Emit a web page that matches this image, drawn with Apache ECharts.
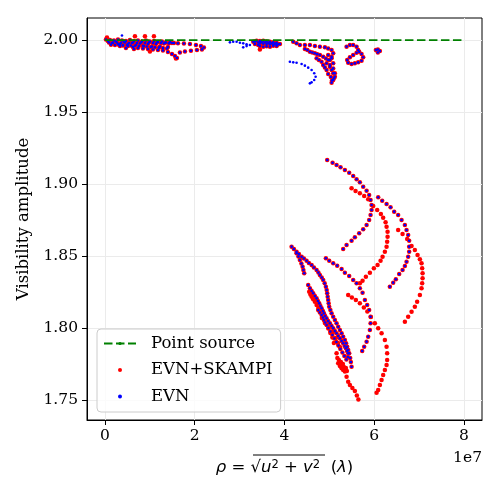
<!DOCTYPE html>
<html><head><meta charset="utf-8">
<script src="https://cdn.jsdelivr.net/npm/echarts@6/dist/echarts.min.js"></script>
<style>html,body{margin:0;padding:0;background:#fff}#c{width:500px;height:500px}</style>
</head><body><div id="c"></div>
<script>
// x values are rho in units of 1e7 lambda (axis offset label "1e7")
const xTicks = [0, 2, 4, 6, 8];
const yTicks = [1.75, 1.80, 1.85, 1.90, 1.95, 2.00];
const pointSourceRho = [0, 8];
const pointSourceAmp = [2.0, 2.0];

// ---- tracks present in both EVN+SKAMPI and EVN ----
const topA = [[0.022,2.0003],[0.111,2.0000],[0.200,1.9997],[0.290,2.0003],[0.379,1.9997],[0.468,1.9993],[0.557,2.0000],[0.646,1.9993],[0.735,1.9997],[0.824,1.9990],[0.913,1.9997],[1.002,1.9990],[1.091,1.9993],[1.180,1.9986],[1.269,1.9990],[1.359,1.9983],[1.448,1.9986],[1.537,1.9979]];
const topB = [[0.067,1.9993],[0.178,1.9983],[0.290,1.9972],[0.401,1.9965],[0.512,1.9958],[0.624,1.9951],[0.735,1.9944],[0.846,1.9941],[0.958,1.9938],[1.069,1.9934],[1.180,1.9931],[1.292,1.9927],[1.403,1.9917],[1.492,1.9903],[1.559,1.9889],[1.604,1.9875]];
const topC = [[0.245,1.9990],[0.423,1.9986],[0.601,1.9979],[0.780,1.9976],[0.958,1.9972],[1.136,1.9972],[1.314,1.9976],[1.492,1.9979],[1.626,1.9977],[1.759,1.9976],[1.893,1.9972],[2.027,1.9965],[2.138,1.9958],[2.205,1.9948],[2.160,1.9935],[2.049,1.9931],[1.915,1.9926],[1.782,1.9920],[1.670,1.9913]];
const topD = [[0.156,1.9979],[0.334,1.9972],[0.512,1.9972],[0.690,1.9965],[0.869,1.9958],[1.047,1.9955],[1.225,1.9955],[1.403,1.9951],[0.468,1.9944],[0.646,1.9938],[0.334,1.9958]];
const topE = [[0.089,1.9983],[0.178,1.9979],[0.267,1.9983],[0.356,1.9979],[0.445,1.9983],[0.535,1.9979],[0.624,1.9983],[0.713,1.9979],[0.802,1.9983],[0.891,1.9979],[0.980,1.9983],[1.069,1.9979],[1.158,1.9983],[1.247,1.9979],[1.336,1.9981],[1.425,1.9977]];
const topF = [[0.134,1.9968],[0.223,1.9965],[0.312,1.9968],[0.401,1.9962],[0.490,1.9965],[0.579,1.9962],[0.668,1.9960],[0.757,1.9958],[0.846,1.9960],[0.935,1.9955],[1.024,1.9951],[1.114,1.9949],[1.203,1.9947],[1.292,1.9944],[1.381,1.9941]];
const midTop = [[3.303,1.9988],[3.379,1.9995],[3.452,1.9993],[3.526,1.9995],[3.601,1.9990],[3.675,1.9988],[3.748,1.9985],[3.824,1.9981],[3.898,1.9972],[3.824,1.9958],[3.748,1.9960],[3.675,1.9953],[3.601,1.9956],[3.526,1.9953],[3.452,1.9958],[3.414,1.9965],[3.341,1.9972],[3.452,1.9977],[3.526,1.9975],[3.601,1.9972],[3.675,1.9970],[3.748,1.9967],[3.824,1.9965],[3.341,1.9990],[3.414,1.9983],[3.490,1.9985],[3.564,1.9983],[3.640,1.9980],[3.712,1.9978],[3.786,1.9975],[3.860,1.9970]];
const hookA = [[4.194,1.9988],[4.269,1.9977],[4.343,1.9965],[4.454,1.9965],[4.566,1.9965],[4.677,1.9958],[4.788,1.9954],[4.900,1.9949],[4.973,1.9941],[5.049,1.9931],[5.085,1.9908],[5.049,1.9884],[4.973,1.9861],[4.938,1.9838],[5.011,1.9826],[5.085,1.9803],[5.122,1.9769],[5.100,1.9734],[5.049,1.9704]];
const hookB = [[4.454,1.9938],[4.566,1.9919],[4.677,1.9908],[4.788,1.9896],[4.862,1.9884],[4.922,1.9872],[4.973,1.9896],[4.510,1.9930],[4.620,1.9913],[4.730,1.9902]];
const hookC = [[4.715,1.9873],[4.766,1.9861],[4.826,1.9849],[4.862,1.9826],[4.938,1.9792],[5.011,1.9815],[5.049,1.9792],[5.085,1.9769],[5.122,1.9745],[5.085,1.9722],[5.011,1.9861],[5.049,1.9873],[5.085,1.9838],[4.973,1.9764],[5.033,1.9743],[4.900,1.9810],[5.060,1.9720]];
const loopTop = [[5.383,1.9954],[5.457,1.9965],[5.530,1.9965],[5.606,1.9954],[5.641,1.9931],[5.606,1.9912],[5.530,1.9896],[5.457,1.9880],[5.396,1.9861],[5.419,1.9842],[5.494,1.9833],[5.568,1.9838],[5.641,1.9845],[5.717,1.9856],[5.753,1.9880],[5.717,1.9903],[5.664,1.9919]];
const dotTop = [[6.080,1.9934],[6.125,1.9924],[6.080,1.9913],[6.036,1.9931]];
const arcA = [[4.951,1.9167],[5.071,1.9148],[5.160,1.9132],[5.249,1.9116],[5.345,1.9097],[5.441,1.9078],[5.530,1.9056],[5.606,1.9033],[5.679,1.9012],[5.753,1.8981],[5.829,1.8953],[5.886,1.8924],[5.918,1.8889],[5.940,1.8854],[5.940,1.8819],[5.918,1.8785],[5.886,1.8750],[5.829,1.8715],[5.753,1.8685],[5.664,1.8658],[5.568,1.8630],[5.494,1.8606],[5.383,1.8576],[5.307,1.8549]];
const arcC = [[6.087,1.8908],[6.176,1.8884],[6.274,1.8861],[6.363,1.8838],[6.443,1.8808],[6.532,1.8785],[6.608,1.8750],[6.682,1.8715],[6.719,1.8681],[6.755,1.8646],[6.777,1.8606],[6.777,1.8565],[6.777,1.8530],[6.755,1.8495],[6.719,1.8460],[6.682,1.8431],[6.630,1.8403],[6.555,1.8375],[6.481,1.8338],[6.421,1.8315],[6.347,1.8287]];
const arcE = [[4.922,1.8484],[4.996,1.8467],[5.085,1.8449],[5.174,1.8433],[5.272,1.8410],[5.345,1.8384],[5.441,1.8361],[5.530,1.8333],[5.606,1.8310],[5.679,1.8276],[5.739,1.8245],[5.791,1.8194],[5.842,1.8160],[5.886,1.8125],[5.918,1.8078],[5.918,1.8033],[5.902,1.7986],[5.864,1.7940],[5.829,1.7905],[5.775,1.7870],[5.731,1.7840]];
const fanOuter = [[4.158,1.8565],[4.209,1.8549],[4.269,1.8530],[4.321,1.8514],[4.381,1.8495],[4.432,1.8483],[4.492,1.8467],[4.543,1.8451],[4.604,1.8438],[4.655,1.8420],[4.715,1.8403],[4.755,1.8385],[4.788,1.8368],[4.829,1.8351],[4.862,1.8333],[4.895,1.8310],[4.922,1.8287],[4.940,1.8264],[4.951,1.8241],[4.962,1.8217],[4.973,1.8194],[4.984,1.8171],[4.996,1.8148],[5.022,1.8125],[5.049,1.8102],[5.085,1.8078],[5.122,1.8056],[5.160,1.8033],[5.196,1.8009],[5.234,1.7986],[5.272,1.7963],[5.307,1.7940],[5.345,1.7917],[5.372,1.7894],[5.396,1.7870],[5.419,1.7847],[5.441,1.7824],[5.463,1.7792],[5.479,1.7764],[5.494,1.7731]];
const fanInner = [[4.269,1.8519],[4.310,1.8497],[4.343,1.8472],[4.376,1.8448],[4.403,1.8426],[4.421,1.8403],[4.439,1.8380]];
const fanMid = [[4.528,1.8299],[4.566,1.8276],[4.604,1.8257],[4.639,1.8241],[4.677,1.8222],[4.715,1.8206],[4.744,1.8188],[4.773,1.8171],[4.800,1.8153],[4.826,1.8137],[4.855,1.8118],[4.878,1.8102],[4.906,1.8083],[4.938,1.8067],[4.973,1.8049],[5.011,1.8033],[5.049,1.8014],[5.085,1.7998],[5.122,1.7979],[5.160,1.7963],[5.196,1.7944],[5.234,1.7928],[5.272,1.7910],[5.307,1.7894],[5.338,1.7875],[5.367,1.7859],[5.394,1.7840],[5.419,1.7824],[5.412,1.7799]];
const fanLow = [[4.751,1.8125],[4.788,1.8108],[4.826,1.8090],[4.855,1.8073],[4.878,1.8056],[4.906,1.8038],[4.938,1.8021],[4.978,1.8000],[5.022,1.7976],[5.067,1.7951],[5.111,1.7927],[5.156,1.7903],[5.200,1.7878],[5.245,1.7854],[5.290,1.7830],[5.334,1.7806],[5.379,1.7781]];

// ---- EVN+SKAMPI only ----
const redTopDots = [[0.045,2.0017],[0.668,2.0026],[0.891,2.0026],[1.091,2.0026],[1.581,1.9872],[1.002,1.9920],[3.452,1.9935]];
const arcB = [[5.494,1.8970],[5.583,1.8951],[5.679,1.8935],[5.775,1.8917],[5.864,1.8894],[5.976,1.8847],[6.065,1.8819],[6.147,1.8792],[6.198,1.8766],[6.252,1.8734],[6.274,1.8703],[6.296,1.8669],[6.296,1.8634],[6.287,1.8599],[6.274,1.8565],[6.236,1.8530],[6.185,1.8495],[6.140,1.8467],[6.073,1.8438],[5.991,1.8415],[5.902,1.8384],[5.813,1.8356],[5.739,1.8328],[5.679,1.8310]];
const arcD = [[6.532,1.8681],[6.630,1.8653],[6.733,1.8618],[6.831,1.8569],[6.904,1.8542],[6.964,1.8507],[7.016,1.8477],[7.053,1.8449],[7.067,1.8415],[7.076,1.8380],[7.076,1.8345],[7.067,1.8310],[7.053,1.8276],[7.016,1.8229],[6.955,1.8183],[6.904,1.8148],[6.831,1.8113],[6.755,1.8078],[6.682,1.8044]];
const arcF = [[5.419,1.8229],[5.501,1.8212],[5.590,1.8194],[5.679,1.8171],[5.768,1.8142],[5.846,1.8115],[5.924,1.8076],[6.013,1.8033],[6.087,1.7998],[6.163,1.7963],[6.236,1.7917],[6.274,1.7870],[6.287,1.7824],[6.287,1.7778],[6.274,1.7743],[6.236,1.7708],[6.198,1.7674],[6.163,1.7639],[6.125,1.7604],[6.087,1.7569],[6.051,1.7551]];
const redUnder = [[4.550,1.8252],[4.577,1.8233],[4.604,1.8217],[4.639,1.8200],[4.677,1.8183],[4.715,1.8160],[4.755,1.8139],[4.800,1.8111],[4.844,1.8083],[4.889,1.8056],[4.933,1.8028],[4.978,1.7997],[5.022,1.7965],[5.067,1.7934],[4.833,1.8069],[4.900,1.8035],[4.989,1.8007],[5.078,1.7972],[5.145,1.7931],[5.189,1.7896],[5.234,1.7868],[5.100,1.7896]];
const redTail = [[5.160,1.7824],[5.178,1.7792],[5.196,1.7755],[5.234,1.7736],[5.272,1.7720],[5.307,1.7708],[5.345,1.7697],[5.383,1.7662],[5.419,1.7627],[5.457,1.7604],[5.512,1.7583],[5.568,1.7563],[5.612,1.7531],[5.646,1.7503],[5.256,1.7764],[5.301,1.7750],[5.323,1.7729],[5.367,1.7722],[5.390,1.7701],[5.278,1.7736],[5.212,1.7778]];

// ---- EVN only ----
const blueTopDots = [[0.379,2.0031]];
const blueMidTrack = [[2.784,1.9984],[2.857,1.9988],[2.933,1.9988],[3.007,1.9981],[3.080,1.9977],[3.156,1.9970],[3.229,1.9965],[3.156,1.9958],[3.080,1.9949]];
const blueHook = [[4.120,1.9849],[4.194,1.9845],[4.269,1.9842],[4.381,1.9833],[4.454,1.9822],[4.528,1.9808],[4.604,1.9792],[4.662,1.9769],[4.693,1.9745],[4.662,1.9722],[4.604,1.9706],[4.566,1.9699]];

const sharedTracks = [topA, topB, topC, topD, topE, topF, midTop, hookA, hookB, hookC, loopTop, dotTop, arcA, arcC, arcE, fanOuter, fanInner, fanMid, fanLow];
const skampiOnly = [redTopDots, arcB, arcD, arcF, redUnder, redTail];
const evnOnly = [blueTopDots, blueMidTrack, blueHook];

const skampiData = [].concat(...sharedTracks, ...skampiOnly);
const evnData = [].concat(...sharedTracks, ...evnOnly);
const pointSourceData = pointSourceRho.map((x, i) => [x, pointSourceAmp[i]]);

const chart = echarts.init(document.getElementById('c'), null, {renderer: 'canvas'});
const serif = 'DejaVu Serif';
chart.setOption({
  animation: false,
  backgroundColor: '#fff',
  grid: {left: 87, right: 18, top: 18, bottom: 80, show: true, borderColor: '#000', borderWidth: 1, backgroundColor: 'transparent'},
  xAxis: {
    type: 'value', min: -0.4, max: 8.4,
    axisLine: {show: true, onZero: false, lineStyle: {color: '#000', width: 1}},
    axisTick: {show: true, customValues: xTicks, length: 5, lineStyle: {color: '#000'}},
    axisLabel: {customValues: xTicks, formatter: v => String(v), fontFamily: serif, fontSize: 15.5, color: '#000', margin: 8},
    splitLine: {show: true, lineStyle: {color: '#ebebeb', width: 1}},
    name: '{i|ρ} = √{i|u}{s|2} + {i|v}{s|2}  ({i|λ})',
    nameLocation: 'middle', nameGap: 39,
    nameTextStyle: {fontFamily: 'DejaVu Sans', fontSize: 16.5, color: '#000',
      rich: {i: {fontFamily: 'DejaVu Sans', fontStyle: 'italic', fontSize: 16.5, color: '#000'},
             s: {fontFamily: 'DejaVu Sans', fontSize: 11.5, color: '#000', verticalAlign: 'top'}}}
  },
  yAxis: {
    type: 'value', min: 1.7361, max: 2.0153,
    axisLine: {show: true, onZero: false, lineStyle: {color: '#000', width: 1}},
    axisTick: {show: true, customValues: yTicks, length: 5, lineStyle: {color: '#000'}},
    axisLabel: {customValues: yTicks, formatter: v => v.toFixed(2), fontFamily: serif, fontSize: 15.5, color: '#000', margin: 9},
    splitLine: {show: true, lineStyle: {color: '#ebebeb', width: 1}},
    name: 'Visibility amplitude', nameLocation: 'middle', nameGap: 54, nameRotate: 90,
    nameTextStyle: {fontFamily: serif, fontSize: 16.5, color: '#000'}
  },
  legend: {
    data: ['Point source', 'EVN+SKAMPI', 'EVN'],
    orient: 'vertical', left: 97, top: 329,
    itemWidth: 32, itemHeight: 4, itemGap: 9.5,
    padding: [6, 8, 7, 6],
    backgroundColor: 'rgba(255,255,255,0.8)', borderColor: '#cccccc', borderWidth: 1, borderRadius: 4,
    textStyle: {fontFamily: serif, fontSize: 16.5, color: '#000', padding: [0, 0, 0, 10]},
    selectedMode: false
  },
  graphic: [
    {type: 'text', right: 18, top: 450, style: {text: '1e7', font: '15.5px "DejaVu Serif"', fill: '#000'}},
    {type: 'line', shape: {x1: 253, y1: 455, x2: 325, y2: 455}, style: {stroke: '#000', lineWidth: 1}}
  ],
  series: [
    {name: 'Point source', type: 'line', data: pointSourceData, symbol: 'none', z: 4,
     lineStyle: {color: '#008000', width: 1.8, type: [8.5, 3.5]}, itemStyle: {color: '#008000'}},
    {name: 'EVN+SKAMPI', type: 'scatter', data: skampiData, symbol: 'circle', symbolSize: 4.5, z: 2,
     itemStyle: {color: '#ff0000', opacity: 1}},
    {name: 'EVN', type: 'scatter', data: evnData, symbol: 'circle', symbolSize: 2.6, z: 3,
     itemStyle: {color: '#0000ff', opacity: 1}}
  ]
});
</script></body></html>
